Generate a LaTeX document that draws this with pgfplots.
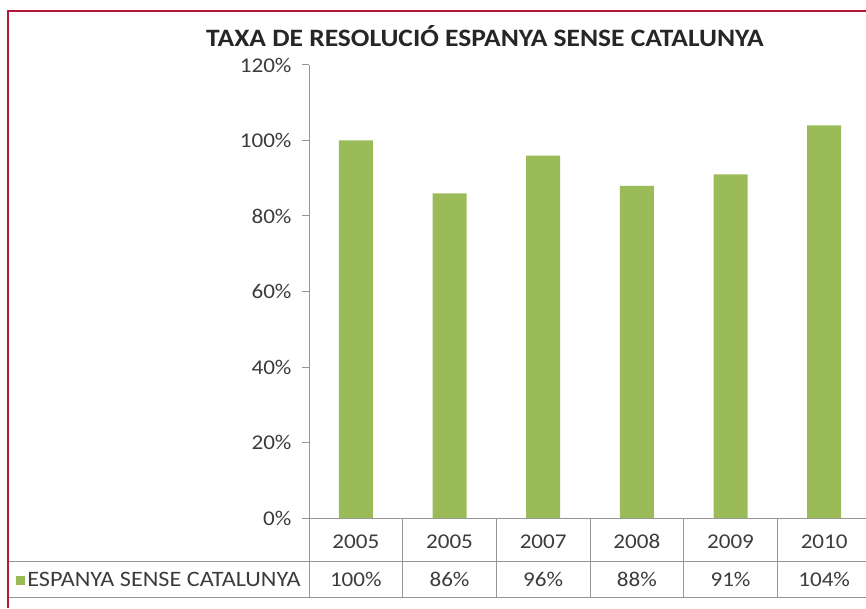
\documentclass[border=0pt]{standalone}
\usepackage{fontspec}
\setmainfont{Carlito}[FakeStretch=1.1]
\usepackage{pgfplots}
\pgfplotsset{compat=1.18}
\usepackage{pgfplotstable}

\definecolor{barGreen}{RGB}{155,187,89}
\definecolor{frameRed}{RGB}{178,24,58}
\definecolor{lineGray}{RGB}{150,150,150}
\definecolor{textGray}{RGB}{60,60,60}

% taxa de resolució per any (%)
\pgfplotstableread{
x   year val
0.5 2005 100
1.5 2005 86
2.5 2007 96
3.5 2008 88
4.5 2009 91
5.5 2010 104
}\rates

\begin{document}
\begin{tikzpicture}[x=1pt,y=1pt]
\useasboundingbox (0,0) rectangle (866,608);
\begin{axis}[
    at={(309pt,90pt)}, anchor=south west,
    scale only axis, width=562pt, height=453pt,
    xmin=0, xmax=6, ymin=0, ymax=120,
    axis x line*=bottom, axis y line*=left,
    axis line style={lineGray, line width=1pt},
    ytick={0,20,...,120},
    yticklabel={\pgfmathprintnumber{\tick}\%},
    /pgf/number format/assume math mode=true,
    tick align=outside, major tick length=7pt,
    ytick style={lineGray, line width=1pt},
    yticklabel style={xshift=-7pt},
    xtick=data,
    xticklabels from table={\rates}{year},
    xtick style={draw=none},
    xticklabel style={anchor=base, yshift=-23pt},
    tick label style={font=\fontsize{21}{24}\selectfont, text=textGray},
    title={TAXA DE RESOLUCIÓ ESPANYA SENSE CATALUNYA},
    title style={font=\fontsize{25}{30}\selectfont\bfseries, text=black!85,
        at={(0.313,1.027)}, anchor=base, inner sep=0pt},
    clip=false,
    legend style={draw=none, fill=none, at={(-0.521,-0.137)}, anchor=west,
        font=\fontsize{22}{24}\selectfont, text=textGray, inner sep=0pt},
    legend image code/.code={\fill[#1] (0pt,-4.5pt) rectangle (9pt,4.5pt);},
]
\addplot[ybar, bar width=34pt, bar shift=0pt, fill=barGreen, draw=none]
    table[x=x, y=val]{\rates};
\addlegendentry{ESPANYA SENSE CATALUNYA}
% fila de valors de la taula
\addplot[draw=none, mark=none, forget plot, point meta=explicit,
    nodes near coords={\pgfmathprintnumber{\pgfplotspointmeta}\%},
    every node near coord/.append style={anchor=base, yshift=-68pt,
        font=\fontsize{21}{24}\selectfont, text=textGray}]
    table[x=x, y expr=0, meta=val]{\rates};
\pgfplotsinvokeforeach{0,...,6}{
    \draw[lineGray, line width=1pt] (axis cs:#1,0) -- ++(0pt,-79pt);
}
\end{axis}
\draw[lineGray, line width=1pt] (8,47) -- (866,47);
\draw[lineGray, line width=1pt] (8,11) -- (866,11);
\draw[frameRed, line width=2.5pt] (8,0) -- (8,597) -- (866,597);
\end{tikzpicture}
\end{document}
